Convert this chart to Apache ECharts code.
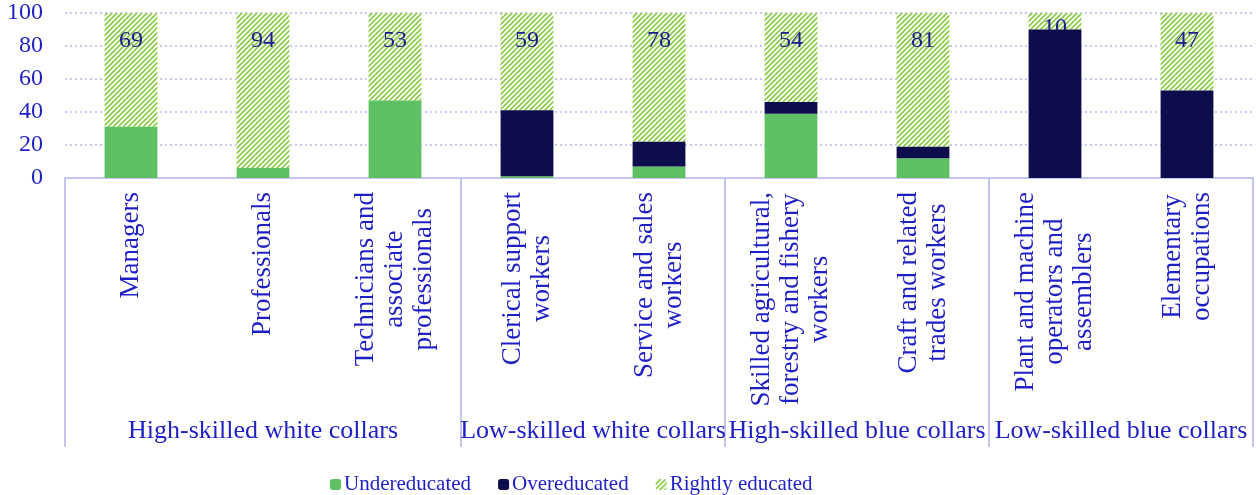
<!DOCTYPE html>
<html>
<head>
<meta charset="utf-8">
<script src="https://cdn.jsdelivr.net/npm/echarts@6/dist/echarts.min.js"></script>
<style>
  html, body { margin: 0; padding: 0; background: #ffffff; }
  #chart { width: 1256px; height: 495px; }
</style>
</head>
<body>
<div id="chart"></div>
<script>
// Occupations (ISCO major groups) and their skill groups
const categories = [
  'Managers',
  'Professionals',
  'Technicians and\nassociate\nprofessionals',
  'Clerical support\nworkers',
  'Service and sales\nworkers',
  'Skilled agricultural,\nforestry and fishery\nworkers',
  'Craft and related\ntrades workers',
  'Plant and machine\noperators and\nassemblers',
  'Elementary\noccupations'
];
const groupNames = [
  'High-skilled white collars',
  'Low-skilled white collars',
  'High-skilled blue collars',
  'Low-skilled blue collars'
];
const groupSizes = [3, 2, 2, 2];

// Shares of workers (%)
const undereducated = [31, 6, 47, 1, 7, 39, 12, 0, 0];
const overeducated = [0, 0, 0, 40, 15, 7, 7, 90, 53];
const rightlyEducated = [69, 94, 53, 59, 78, 54, 81, 10, 47];

const yTicks = [0, 20, 40, 60, 80, 100];

const FONT = '"Liberation Serif", "Times New Roman", serif';
const TEXT_BLUE = '#1f1fc6';
const LABEL_NAVY = '#1c1c8c';
const LINE_LAVENDER = '#c4c4f4';
const GREEN = '#5dc163';
const NAVY = '#0d0d4d';

// Diagonal hatch used for the "rightly educated" segments
function hatchPattern() {
  const s = 5;
  const c = document.createElement('canvas');
  c.width = s; c.height = s;
  const g = c.getContext('2d');
  g.fillStyle = '#ffffff';
  g.fillRect(0, 0, s, s);
  g.strokeStyle = '#88cc44';
  g.lineWidth = 1.6;
  g.beginPath();
  g.moveTo(-1, s + 1); g.lineTo(s + 1, -1);
  g.moveTo(-1, 1); g.lineTo(1, -1);
  g.moveTo(s - 1, s + 1); g.lineTo(s + 1, s - 1);
  g.stroke();
  return { image: c, repeat: 'repeat' };
}

// Secondary axis: half-category points so group labels sit at group centres
// and ticks fall on group boundaries
const halfPoints = [];
const groupLabelAt = {};
const boundaryAt = { 0: true };
let start = 0;
groupSizes.forEach((n, i) => {
  groupLabelAt[start * 2 + n] = groupNames[i];
  start += n;
  boundaryAt[start * 2] = true;
});
for (let k = 0; k <= categories.length * 2; k++) {
  halfPoints.push(groupLabelAt[k] || '');
}

const rightlyData = rightlyEducated.map(v =>
  v < 15 ? { value: v, label: { distance: 3 } } : v
);

const chart = echarts.init(document.getElementById('chart'), null, { renderer: 'canvas' });

chart.setOption({
  animation: false,
  backgroundColor: '#ffffff',
  grid: { left: 65, right: 1, top: 13, bottom: 317, containLabel: false },
  legend: {
    left: 325,
    top: 469,
    itemWidth: 11,
    itemHeight: 11,
    itemGap: 27,
    textStyle: { fontFamily: FONT, fontSize: 21, color: TEXT_BLUE, padding: [0, 0, 0, -2] },
    data: ['Undereducated', 'Overeducated', 'Rightly educated']
  },
  xAxis: [
    {
      type: 'category',
      data: categories,
      position: 'bottom',
      axisLine: { show: true, lineStyle: { color: LINE_LAVENDER, width: 2 } },
      axisTick: { show: false },
      axisLabel: {
        interval: 0,
        rotate: 90,
        margin: 14,
        formatter: v => v.split('\n').map(l => '{c|' + l + '}').join('\n'),
        rich: {
          c: { align: 'center', fontFamily: FONT, fontSize: 27, lineHeight: 29, color: TEXT_BLUE }
        }
      }
    },
    {
      type: 'category',
      data: halfPoints,
      position: 'bottom',
      boundaryGap: false,
      axisLine: { show: false },
      axisTick: {
        show: true,
        length: 269,
        interval: idx => !!boundaryAt[idx],
        lineStyle: { color: LINE_LAVENDER, width: 2 }
      },
      axisLabel: {
        interval: 0,
        margin: 240,
        fontFamily: FONT,
        fontSize: 26,
        color: TEXT_BLUE
      }
    }
  ],
  yAxis: {
    type: 'value',
    min: yTicks[0],
    max: yTicks[yTicks.length - 1],
    interval: 20,
    axisLine: { show: false },
    axisTick: { show: false },
    axisLabel: { margin: 22, fontFamily: FONT, fontSize: 24, color: TEXT_BLUE },
    splitLine: { lineStyle: { color: '#b6b6f0', width: 1.5, type: [2, 3] } }
  },
  series: [
    {
      name: 'Undereducated',
      type: 'bar',
      stack: 'total',
      barWidth: '40%',
      z: 3,
      itemStyle: { color: GREEN },
      data: undereducated
    },
    {
      name: 'Overeducated',
      type: 'bar',
      stack: 'total',
      barWidth: '40%',
      z: 3,
      itemStyle: { color: NAVY },
      data: overeducated
    },
    {
      name: 'Rightly educated',
      type: 'bar',
      stack: 'total',
      barWidth: '40%',
      z: 2,
      itemStyle: { color: hatchPattern() },
      label: {
        show: true,
        position: 'insideTop',
        distance: 16,
        fontFamily: FONT,
        fontSize: 24,
        color: LABEL_NAVY
      },
      data: rightlyData
    }
  ]
});
</script>
</body>
</html>
